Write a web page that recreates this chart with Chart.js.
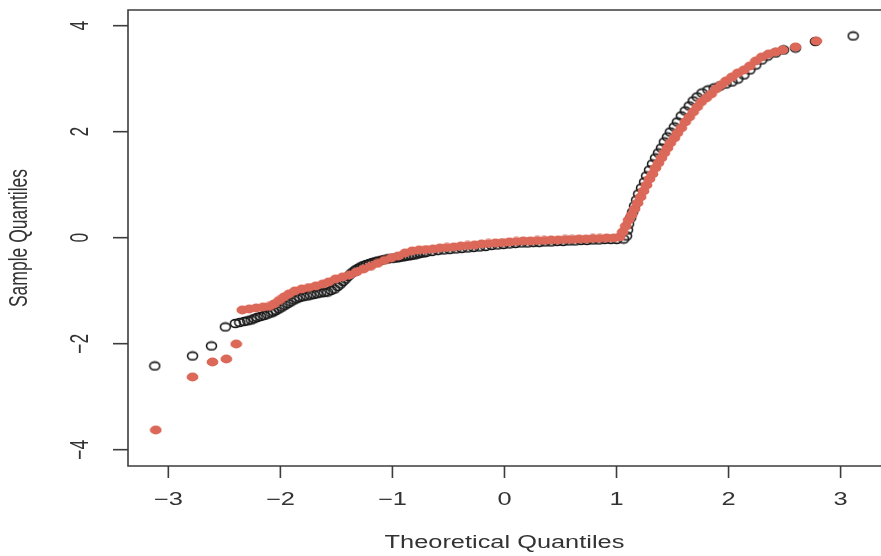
<!DOCTYPE html>
<html>
<head>
<meta charset="utf-8">
<script src="https://cdn.jsdelivr.net/npm/chart.js@4"></script>
<style>
html,body{margin:0;padding:0;background:#fff;}
#wrap{width:881px;height:556px;position:relative;}
</style>
</head>
<body>
<div id="wrap"><canvas id="c" width="881" height="556"></canvas></div>
<script>
// ---- data ----
const xTickValues = [-3, -2, -1, 0, 1, 2, 3];
const xTickLabels = ["\u22123", "\u22122", "\u22121", "0", "1", "2", "3"];
const yTickValues = [-4, -2, 0, 2, 4];
const yTickLabels = ["\u22124", "\u22122", "0", "2", "4"];
const xTitle = "Theoretical Quantiles";
const yTitle = "Sample Quantiles";

// black open circles (first sample)
const blackX = [-3.121,-2.784,-2.615,-2.491,-2.402,-2.323,-2.261,-2.207,-2.145,-2.083,-2.039,-1.986,-1.933,-1.879,-1.826,-1.764,-1.702,-1.640,-1.578,-1.516,-1.463,-1.418,-1.374,-1.330,-1.285,-1.232,-1.179,-1.126,-1.073,-1.020,-0.966,-0.913,-0.860,-0.807,-0.754,-0.700,-0.647,-0.594,-0.541,-0.488,-0.434,-0.381,-0.328,-0.275,-0.222,-0.168,-0.115,-0.062,-0.009,0.044,0.098,0.151,0.204,0.257,0.310,0.363,0.417,0.470,0.523,0.576,0.629,0.683,0.736,0.789,0.842,0.895,0.949,1.002,1.064,
  1.090,1.099,1.108,1.126,1.144,1.161,1.179,1.197,1.223,1.250,1.268,1.294,1.321,1.348,1.374,1.401,1.427,1.454,1.480,1.516,1.543,1.578,1.613,1.649,1.684,1.720,1.764,1.817,1.871,1.924,1.977,2.030,2.083,2.137,2.190,2.243,2.296,2.349,2.420,2.491,2.598,2.775,3.112,
  -2.363,-2.292,-2.234,-2.176,-2.114,-2.061,-2.012,-1.959,-1.906,-1.853,-1.795,-1.733,-1.671,-1.609,-1.547,-1.489,-1.441,-1.396,-1.352,-1.307,-1.259,-1.206,-1.152,-1.099,-1.046,-0.993,-0.940,-0.887,-0.833,-0.780,-0.727];
const blackY = [-2.421,-2.232,-2.043,-1.685,-1.619,-1.581,-1.553,-1.506,-1.468,-1.421,-1.374,-1.308,-1.242,-1.175,-1.128,-1.100,-1.072,-1.043,-1.025,-0.968,-0.874,-0.779,-0.685,-0.609,-0.553,-0.506,-0.468,-0.440,-0.411,-0.392,-0.383,-0.364,-0.345,-0.326,-0.298,-0.279,-0.260,-0.242,-0.232,-0.223,-0.213,-0.204,-0.194,-0.185,-0.175,-0.166,-0.147,-0.138,-0.128,-0.119,-0.109,-0.100,-0.100,-0.091,-0.091,-0.081,-0.081,-0.072,-0.072,-0.062,-0.062,-0.053,-0.053,-0.043,-0.043,-0.034,-0.034,-0.034,-0.025,
  0.032,0.145,0.258,0.372,0.485,0.598,0.711,0.825,0.938,1.051,1.164,1.277,1.391,1.504,1.598,1.692,1.806,1.900,1.994,2.089,2.183,2.296,2.391,2.485,2.579,2.655,2.730,2.787,2.825,2.862,2.900,2.938,2.994,3.070,3.164,3.258,3.353,3.428,3.485,3.542,3.579,3.702,3.806,
  -1.600,-1.568,-1.528,-1.487,-1.443,-1.398,-1.342,-1.274,-1.209,-1.151,-1.113,-1.085,-1.057,-1.034,-0.996,-0.921,-0.826,-0.732,-0.647,-0.581,-0.528,-0.487,-0.453,-0.425,-0.402,-0.387,-0.374,-0.355,-0.336,-0.311,-0.289];

// red filled points (second sample)
const redX = [-3.112,-2.784,-2.606,-2.482,-2.394,
  -2.340,-2.278,-2.216,-2.154,-2.101,-2.057,-2.012,-1.968,-1.924,-1.871,-1.809,-1.746,-1.684,-1.622,-1.569,-1.507,-1.445,-1.383,-1.321,-1.259,-1.197,-1.135,-1.073,-1.011,-0.949,-0.887,-0.824,-0.762,-0.700,-0.638,-0.576,-0.514,-0.452,-0.390,-0.328,-0.266,-0.204,-0.142,-0.080,-0.018,0.044,0.106,0.168,0.230,0.293,0.355,0.417,0.479,0.541,0.603,0.665,0.727,0.789,0.851,0.913,0.975,1.028,
  1.055,1.082,1.108,1.135,1.161,1.188,1.215,1.241,1.268,1.294,1.321,1.348,1.374,1.401,1.427,1.454,1.480,1.516,1.543,1.578,1.613,1.649,1.684,1.720,1.755,1.800,1.844,1.888,1.933,1.977,2.030,2.083,2.137,2.190,2.243,2.296,2.358,2.420,2.482,2.598,2.784];
const redY = [-3.628,-2.628,-2.345,-2.289,-2.006,
  -1.364,-1.345,-1.326,-1.308,-1.298,-1.251,-1.185,-1.119,-1.062,-1.006,-0.968,-0.940,-0.911,-0.874,-0.836,-0.779,-0.742,-0.704,-0.647,-0.591,-0.543,-0.487,-0.430,-0.383,-0.345,-0.289,-0.251,-0.232,-0.223,-0.213,-0.194,-0.185,-0.175,-0.157,-0.147,-0.138,-0.119,-0.109,-0.100,-0.091,-0.081,-0.072,-0.062,-0.062,-0.053,-0.053,-0.043,-0.043,-0.034,-0.034,-0.025,-0.025,-0.015,-0.015,-0.006,-0.006,0.013,
  0.108,0.221,0.334,0.428,0.542,0.655,0.768,0.881,0.994,1.108,1.202,1.315,1.409,1.504,1.598,1.692,1.787,1.881,1.975,2.070,2.183,2.277,2.372,2.466,2.560,2.636,2.711,2.806,2.881,2.957,3.032,3.108,3.164,3.240,3.334,3.409,3.466,3.504,3.542,3.598,3.711];

// ---- styling ----
const RED = 'rgb(219,104,88)';
const DARK = '#1a1a1a';
const AXIS = '#3c3c3c';
const TEXT = '#333333';
const SX = 1.45; // horizontal stretch seen in the reference
const FONT = '17.5px "Liberation Sans", Arial, sans-serif';

function sprite(w, h, draw) {
  const c = document.createElement('canvas');
  c.width = w; c.height = h;
  draw(c.getContext('2d'), w, h);
  return c;
}
const redDot = sprite(13, 10, (g, w, h) => {
  g.fillStyle = RED;
  g.beginPath(); g.ellipse(w/2, h/2, 5.9, 4.4, 0, 0, Math.PI*2); g.fill();
});
const blackRing = sprite(13, 11, (g, w, h) => {
  g.strokeStyle = DARK; g.lineWidth = 1.6;
  g.beginPath(); g.ellipse(w/2, h/2, 5.0, 3.9, 0, 0, Math.PI*2); g.stroke();
});

function pts(xs, ys) { return xs.map((x, i) => ({x: x, y: ys[i]})); }

function stretchedText(ctx, t, x, y, rotate) {
  ctx.save();
  ctx.translate(x, y);
  ctx.scale(SX, 1);
  if (rotate) ctx.rotate(-Math.PI / 2);
  ctx.fillText(t, 0, 0);
  ctx.restore();
}

const framePlugin = {
  id: 'frame',
  afterDraw(chart) {
    const ctx = chart.ctx, a = chart.chartArea;
    const xs = chart.scales.x, ys = chart.scales.y;
    ctx.save();
    ctx.strokeStyle = AXIS; ctx.lineWidth = 1.6;
    ctx.beginPath();
    ctx.moveTo(chart.width + 2, a.top); ctx.lineTo(a.left, a.top);
    ctx.lineTo(a.left, a.bottom); ctx.lineTo(chart.width + 2, a.bottom);
    ctx.stroke();
    ctx.fillStyle = TEXT; ctx.font = FONT;
    ctx.textAlign = 'center'; ctx.textBaseline = 'middle';
    xTickValues.forEach((v, i) => {
      const px = xs.getPixelForValue(v);
      ctx.beginPath(); ctx.moveTo(px, a.bottom); ctx.lineTo(px, a.bottom + 12); ctx.stroke();
      stretchedText(ctx, xTickLabels[i], px, a.bottom + 34, false);
    });
    yTickValues.forEach((v, i) => {
      const py = ys.getPixelForValue(v);
      ctx.beginPath(); ctx.moveTo(a.left - 15, py); ctx.lineTo(a.left, py); ctx.stroke();
      stretchedText(ctx, yTickLabels[i], a.left - 47, py, true);
    });
    stretchedText(ctx, xTitle, xs.getPixelForValue(0), a.bottom + 77, false);
    stretchedText(ctx, yTitle, 20, (a.top + a.bottom) / 2, true);
    ctx.restore();
  }
};

new Chart(document.getElementById('c'), {
  type: 'scatter',
  data: {
    datasets: [
      { label: 'red', data: pts(redX, redY), pointStyle: redDot, pointRadius: 4, order: 0 },
      { label: 'black', data: pts(blackX, blackY), pointStyle: blackRing, pointRadius: 4, order: 1 }
    ]
  },
  options: {
    responsive: false,
    animation: false,
    events: [],
    layout: { padding: { left: 128, top: 10, right: 0, bottom: 90 } },
    plugins: { legend: { display: false }, tooltip: { enabled: false } },
    scales: {
      x: { type: 'linear', display: false, min: -3.36, max: 3.316 },
      y: { type: 'linear', display: false, min: -4.308, max: 4.296 }
    }
  },
  plugins: [framePlugin]
});
</script>
</body>
</html>
